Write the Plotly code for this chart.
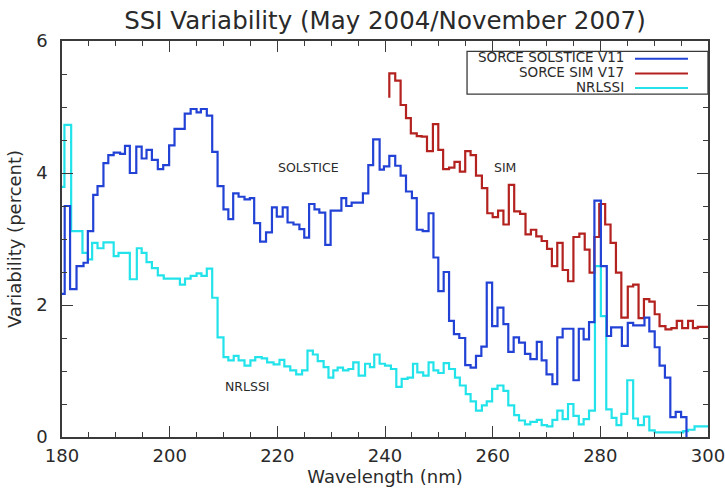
import plotly.graph_objects as go

# ---------------- data ----------------
sol_wl = [180.0, 180.5, 181.5, 182.7, 184.0, 184.8, 185.8, 186.6, 187.7, 188.6,
          189.6, 190.8, 191.7, 192.6, 193.8, 194.8, 195.7, 196.7, 197.8, 198.8,
          199.9, 200.9, 202.8, 203.9, 205.0, 205.8, 206.9, 207.9, 208.9, 210.0,
          210.9, 211.8, 212.8, 213.9, 214.9, 215.7, 216.8, 217.9, 219.0, 219.9,
          221.0, 221.9, 223.0, 224.1, 225.0, 225.9, 226.9, 227.8, 228.9, 229.9,
          231.9, 232.8, 233.8, 235.9, 236.9, 237.8, 239.0, 239.8, 240.8, 241.9,
          242.9, 243.9, 245.0, 245.9, 247.0, 248.1, 249.0, 249.9, 250.9, 251.9,
          252.8, 253.8, 254.9, 255.9, 256.9, 257.9, 258.9, 259.9, 260.9, 262.0,
          262.9, 263.9, 264.9, 266.0, 267.0, 268.2, 269.1, 270.0, 271.1, 272.0,
          273.0, 275.0, 276.0, 276.9, 277.9, 278.9, 280.1, 281.2, 282.0, 284.0,
          285.1, 286.1, 288.2, 289.1, 290.1, 291.0, 292.0, 293.0, 294.0, 295.0,
          296.0]
sol_val = [2.17, 3.50, 2.24, 2.59, 2.64, 3.12, 3.67, 3.80, 4.15, 4.27,
           4.31, 4.29, 4.41, 4.00, 4.40, 4.22, 4.35, 4.20, 4.06, 4.12,
           4.42, 4.67, 4.90, 4.97, 4.92, 4.97, 4.87, 4.32, 3.80, 3.45,
           3.30, 3.69, 3.64, 3.60, 3.62, 3.24, 2.96, 3.10, 3.48, 3.34,
           3.48, 3.25, 3.22, 3.15, 3.02, 3.53, 3.45, 3.40, 2.91, 3.43,
           3.62, 3.50, 3.55, 3.69, 4.12, 4.51, 4.05, 4.10, 4.26, 4.11,
           3.96, 3.72, 3.62, 3.14, 3.12, 3.39, 2.72, 2.21, 2.50, 1.76,
           1.56, 1.50, 1.09, 1.05, 1.23, 1.37, 2.34, 1.68, 1.96, 1.71,
           1.29, 1.51, 1.43, 1.26, 1.18, 1.44, 1.16, 0.95, 0.80, 1.51,
           1.64, 0.86, 1.64, 1.48, 1.74, 3.58, 2.59, 1.53, 1.66, 1.38,
           1.73, 1.69, 1.81, 1.60, 1.36, 1.08, 0.90, 0.30, 0.38, 0.30,
           0.00]

sim_wl = [240.8, 240.8, 241.9, 242.9, 243.9, 244.8, 245.9, 246.8, 247.8, 248.9,
          249.9, 250.8, 251.9, 252.9, 253.9, 254.9, 255.9, 256.9, 258.0, 259.0,
          260.0, 261.0, 262.0, 263.0, 264.0, 265.1, 266.1, 267.1, 268.1, 269.1,
          270.1, 271.0, 272.0, 273.0, 274.0, 275.0, 276.1, 277.1, 278.0, 278.9,
          279.8, 280.9, 281.9, 282.9, 283.9, 285.1, 286.1, 287.1, 288.1, 289.1,
          290.1, 291.0, 292.1, 293.2, 294.2, 295.2, 296.3, 297.2, 298.1, 300.0]
sim_val = [5.14, 5.51, 5.40, 5.03, 4.83, 4.60, 4.56, 4.55, 4.33, 4.74,
           4.35, 4.06, 4.08, 4.17, 4.02, 4.33, 4.27, 3.96, 3.77, 3.39,
           3.33, 3.43, 3.22, 3.82, 3.42, 3.38, 3.07, 3.14, 3.04, 2.97,
           2.85, 2.59, 2.94, 2.53, 2.36, 3.03, 3.08, 2.84, 2.49, 3.03,
           3.53, 3.22, 2.94, 2.49, 1.81, 2.28, 2.31, 1.80, 2.09, 2.05,
           1.86, 1.68, 1.63, 1.65, 1.76, 1.65, 1.76, 1.65, 1.67, 1.67]

nrl_wl = [180.0, 180.45, 181.7, 183.8, 184.8, 185.6, 186.6, 187.7, 189.6, 190.5,
          192.6, 193.9, 194.8, 195.7, 196.7, 197.8, 198.9, 201.9, 202.85, 203.9,
          205.0, 205.9, 206.9, 207.9, 208.9, 210.0, 210.9, 211.9, 212.8, 213.9,
          215.0, 215.9, 217.1, 218.1, 219.3, 220.4, 221.3, 222.4, 223.5, 224.6,
          225.6, 226.6, 227.5, 228.6, 229.5, 230.4, 231.2, 232.2, 233.2, 234.1,
          235.1, 236.3, 237.2, 238.0, 239.0, 240.0, 241.1, 242.1, 243.1, 244.2,
          245.2, 246.0, 247.1, 248.1, 249.0, 249.9, 250.9, 251.9, 253.0, 253.9,
          255.0, 255.9, 256.9, 258.0, 258.9, 259.9, 260.9, 262.0, 262.9, 264.0,
          264.9, 266.0, 267.0, 268.2, 269.1, 270.1, 271.1, 272.0, 273.0, 274.0,
          275.0, 276.0, 276.9, 277.9, 279.0, 280.1, 281.1, 282.1, 283.0, 283.9,
          285.0, 286.1, 287.0, 288.1, 289.1, 290.1, 295.4, 296.3, 297.5, 300.0]
nrl_val = [3.79, 4.73, 3.12, 2.79, 2.69, 2.94, 2.86, 2.95, 2.74, 2.79,
           2.39, 2.86, 2.79, 2.65, 2.56, 2.45, 2.40, 2.31, 2.40, 2.44,
           2.48, 2.44, 2.55, 2.11, 1.51, 1.21, 1.16, 1.23, 1.16, 1.08,
           1.16, 1.21, 1.19, 1.13, 1.10, 1.17, 1.07, 1.01, 0.95, 1.01,
           1.31, 1.25, 1.15, 1.06, 0.90, 1.01, 1.05, 1.01, 1.03, 1.13,
           0.93, 1.11, 1.06, 1.25, 1.11, 1.08, 1.03, 0.76, 0.88, 0.90,
           1.11, 0.98, 0.93, 1.13, 1.01, 0.97, 1.12, 1.03, 0.90, 0.78,
           0.65, 0.54, 0.40, 0.48, 0.54, 0.73, 0.78, 0.70, 0.48, 0.33,
           0.25, 0.19, 0.23, 0.26, 0.18, 0.16, 0.26, 0.40, 0.27, 0.50,
           0.32, 0.19, 0.27, 0.40, 2.59, 1.83, 0.42, 0.29, 0.18, 0.35,
           0.86, 0.28, 0.18, 0.31, 0.10, 0.07, 0.09, 0.11, 0.16, 0.16]

series_names = ["SORCE SOLSTICE V11", "SORCE SIM V17", "NRLSSI"]
x_ticks = [180, 200, 220, 240, 260, 280, 300]
y_ticks = [0, 2, 4, 6]

# ---------------- styles ----------------
C_SOL = "#2242d6"
C_SIM = "#b3221f"
C_NRL = "#22e3ea"
AXC = "#3a3a3a"
TXT = "#2a2a2a"
FONT = "DejaVu Sans"

fig = go.Figure()
for wl, val, col, nm in [(nrl_wl, nrl_val, C_NRL, series_names[2]),
                         (sim_wl, sim_val, C_SIM, series_names[1]),
                         (sol_wl, sol_val, C_SOL, series_names[0])]:
    fig.add_trace(go.Scatter(x=wl, y=val, mode="lines", name=nm,
                             line=dict(color=col, width=2.2, shape="hv"),
                             showlegend=False, hoverinfo="skip"))

axis_common = dict(showline=True, linecolor=AXC, linewidth=1.5, mirror="ticks",
                   ticks="inside", tickcolor=AXC, tickwidth=1.3, showgrid=False,
                   zeroline=False, ticklabeloverflow="allow", automargin=False,
                   tickfont=dict(family=FONT, size=18, color=TXT))
fig.update_xaxes(range=[180, 300], tickvals=x_ticks, ticklen=11,
                 ticklabelstandoff=2,
                 minor=dict(dtick=5, tick0=180, ticklen=5, ticks="inside",
                            tickcolor=AXC, tickwidth=1.2, showgrid=False),
                 title=dict(text="Wavelength (nm)", standoff=3,
                            font=dict(family=FONT, size=18, color=TXT)),
                 **axis_common)
fig.update_yaxes(range=[0, 6], tickvals=y_ticks, ticklen=11,
                 ticklabelstandoff=9,
                 minor=dict(dtick=0.5, tick0=0, ticklen=5, ticks="inside",
                            tickcolor=AXC, tickwidth=1.2, showgrid=False),
                 title=dict(text="Variability (percent)", standoff=10,
                            font=dict(family=FONT, size=18, color=TXT)),
                 **axis_common)

# in-plot labels
lab_font = dict(family=FONT, size=12.5, color=TXT)
fig.add_annotation(x=225.7, y=4.09, text="SOLSTICE", showarrow=False, font=lab_font)
fig.add_annotation(x=262.3, y=4.09, text="SIM", showarrow=False, font=lab_font)
fig.add_annotation(x=214.4, y=0.76, text="NRLSSI", showarrow=False, font=lab_font)

# manual legend (text left of line sample, boxed)
fig.add_shape(type="rect", xref="paper", yref="paper", x0=0.627, x1=1.0,
              y0=0.866, y1=0.974, line=dict(color=AXC, width=1.3),
              fillcolor="white")
leg_rows = [0.959, 0.922, 0.885]
for nm, col, yy in zip(series_names, [C_SOL, C_SIM, C_NRL], leg_rows):
    fig.add_annotation(xref="paper", yref="paper", x=0.872, y=yy, text=nm,
                       showarrow=False, xanchor="right", yanchor="middle",
                       borderpad=0,
                       font=dict(family=FONT, size=13.5, color=TXT))
    fig.add_shape(type="line", xref="paper", yref="paper", x0=0.887, x1=0.969,
                  y0=yy - 0.004, y1=yy - 0.004, line=dict(color=col, width=2))

fig.update_layout(
    width=725, height=492,
    margin=dict(l=62, r=17, t=41, b=55, autoexpand=False),
    paper_bgcolor="white", plot_bgcolor="white",
    title=dict(text="SSI Variability (May 2004/November 2007)", x=0.5, xref="paper",
               y=0.958, xanchor="center", yanchor="middle",
               font=dict(family=FONT, size=24.5, color=TXT)),
)

fig.write_html("out.html")
